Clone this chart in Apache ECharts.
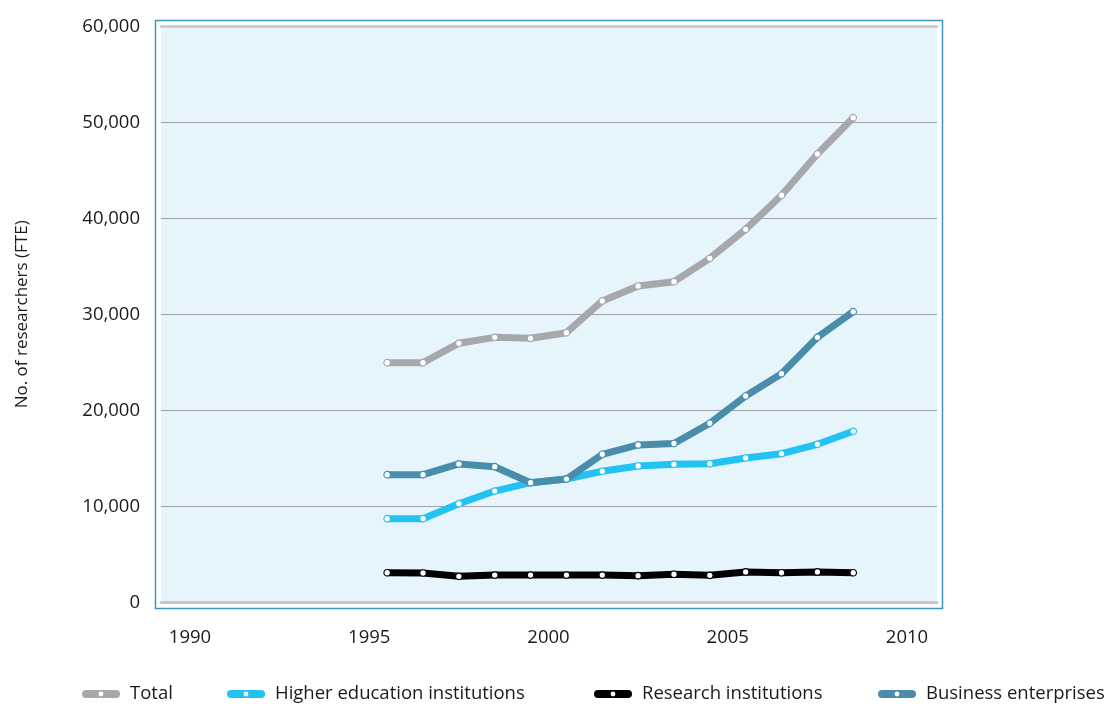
<!DOCTYPE html>
<html>
<head>
<meta charset="utf-8">
<script src="https://cdn.jsdelivr.net/npm/echarts@6/dist/echarts.min.js"></script>
<style>
  html, body { margin: 0; padding: 0; background: #ffffff; }
  #chart { width: 1107px; height: 704px; }
</style>
</head>
<body>
<div id="chart"></div>
<script>
// Observation points (plotted at mid-year)
const years = [1995.5, 1996.5, 1997.5, 1998.5, 1999.5, 2000.5, 2001.5, 2002.5, 2003.5, 2004.5, 2005.5, 2006.5, 2007.5, 2008.5];

// Researchers, full-time equivalents
const total = [24960, 24960, 26980, 27600, 27500, 28080, 31390, 32950, 33400, 35830, 38850, 42400, 46700, 50480];
const higherEducation = [8710, 8710, 10270, 11590, 12460, 12840, 13650, 14200, 14375, 14440, 15030, 15480, 16460, 17810];
const researchInstitutions = [3080, 3050, 2710, 2840, 2840, 2840, 2840, 2770, 2920, 2810, 3160, 3080, 3160, 3080];
const businessEnterprises = [13290, 13290, 14410, 14125, 12460, 12840, 15420, 16390, 16540, 18650, 21490, 23810, 27600, 30270];

const seriesNames = ['Total', 'Higher education institutions', 'Research institutions', 'Business enterprises'];
const seriesColors = ['#a7a8ab', '#22c2f2', '#000000', '#4a8dab'];

// Axis ticks
const xTickLabels = [1990, 1995, 2000, 2005, 2010];
const yTickValues = [0, 10000, 20000, 30000, 40000, 50000, 60000];

const FONT = '"Open Sans", "Noto Sans", sans-serif';
const FONT_SIZE = 18.5;
const TEXT_COLOR = '#1a1a1a';

const seriesData = [total, higherEducation, researchInstitutions, businessEnterprises];

const chart = echarts.init(document.getElementById('chart'), null, { renderer: 'canvas' });

// Capsule icon with a round hole in the middle for the legend
const legendIcon = 'path://M4,0 L34,0 A4,4 0 0 1 34,8 L4,8 A4,4 0 0 1 4,0 Z ' +
  'M21.4,4 A2.4,2.4 0 0 0 16.6,4 A2.4,2.4 0 0 0 21.4,4 Z';

const legendLefts = [82, 227, 594, 878];

const legends = seriesNames.map((name, i) => ({
  show: true,
  left: legendLefts[i],
  top: 684,
  padding: 0,
  orient: 'horizontal',
  icon: legendIcon,
  itemWidth: 48,
  itemHeight: 8,
  selectedMode: false,
  textStyle: { fontFamily: FONT, fontSize: FONT_SIZE, color: TEXT_COLOR, lineHeight: 20 },
  data: [{ name: name, itemStyle: { color: seriesColors[i], borderWidth: 0 } }]
}));

const option = {
  animation: false,
  backgroundColor: '#ffffff',
  textStyle: { fontFamily: FONT },
  graphic: [{
    type: 'rect',
    z: -10,
    shape: { x: 155.5, y: 20.5, width: 787, height: 588 },
    style: { fill: 'none', stroke: '#3b96c4', lineWidth: 1.5 }
  }],
  legend: legends,
  grid: [
    // plotting grid: spans 1989–2011 horizontally
    { left: 154.15, width: 788.7, top: 26.3, height: 576, show: false },
    // shaded panel with horizontal gridlines
    { left: 161, right: 170, top: 26.3, height: 576, show: true,
      backgroundColor: '#e6f4fc', borderWidth: 0 }
  ],
  xAxis: [
    {
      gridIndex: 0, type: 'value', min: 1989, max: 2011, interval: 1,
      axisLine: { show: false }, axisTick: { show: false }, splitLine: { show: false },
      axisLabel: {
        interval: 0, margin: 26,
        fontFamily: FONT, fontSize: FONT_SIZE, color: TEXT_COLOR,
        formatter: v => (xTickLabels.indexOf(v) >= 0 ? String(v) : '')
      }
    },
    {
      gridIndex: 1, type: 'value', min: 0, max: 1, position: 'bottom',
      axisLine: { show: true, lineStyle: { color: '#c5c7cb', width: 3 } },
      axisTick: { show: false }, axisLabel: { show: false }, splitLine: { show: false }
    },
    {
      gridIndex: 1, type: 'value', min: 0, max: 1, position: 'top',
      axisLine: { show: true, lineStyle: { color: '#c5c7cb', width: 2.5 } },
      axisTick: { show: false }, axisLabel: { show: false }, splitLine: { show: false }
    }
  ],
  yAxis: [
    {
      gridIndex: 0, type: 'value', min: 0, max: 60000, interval: 10000, show: false
    },
    {
      gridIndex: 1, type: 'value', min: 0, max: 60000, interval: 10000,
      axisLine: { show: false }, axisTick: { show: false },
      splitLine: { show: true, lineStyle: {
        color: yTickValues.map((v, i) => (i === 0 || i === yTickValues.length - 1) ? '#c5c7cb' : '#a0a2a8'),
        width: 1.2 } },
      axisLabel: {
        margin: 21, fontFamily: FONT, fontSize: FONT_SIZE, color: TEXT_COLOR,
        formatter: v => v.toLocaleString('en-US')
      },
      name: 'No. of researchers (FTE)',
      nameLocation: 'middle',
      nameGap: 130,
      nameTextStyle: { fontFamily: FONT, fontSize: 17, color: TEXT_COLOR }
    }
  ],
  series: seriesNames.map((name, i) => ({
    name: name,
    type: 'line',
    xAxisIndex: 0,
    yAxisIndex: 0,
    data: years.map((y, j) => [y, seriesData[i][j]]),
    symbol: 'circle',
    symbolSize: 6.5,
    showSymbol: true,
    lineStyle: { color: seriesColors[i], width: 7, join: 'round' },
    itemStyle: { color: '#ffffff', borderColor: seriesColors[i], borderWidth: 1.2 },
    emphasis: { disabled: true },
    z: 2 + i
  }))
};

chart.setOption(option);
</script>
</body>
</html>
